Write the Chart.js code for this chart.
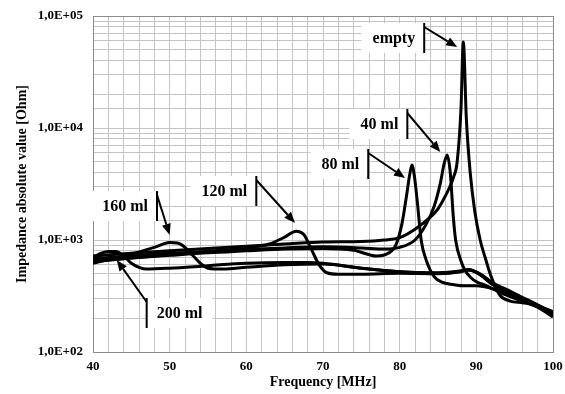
<!DOCTYPE html>
<html>
<head>
<meta charset="utf-8">
<script src="https://cdn.jsdelivr.net/npm/chart.js@4.4.1/dist/chart.umd.min.js"></script>
<style>
  html, body { margin: 0; padding: 0; background: #fff; }
</style>
</head>
<body>
<canvas id="chart" width="565" height="394"></canvas>
<script>
// frequency [MHz] / impedance [Ohm], one pair per curve
const emptyF = [40, 45, 50, 55, 60, 65, 70, 75, 78, 80, 82, 84, 85, 86, 87, 87.5, 88, 88.3, 88.7, 89.2, 89.8, 90.5, 91.2, 91.8, 92.5, 93.1, 94.4, 96, 97, 98.5, 100];
const emptyZ = [720, 760, 800, 840, 880, 920, 960, 970, 1000, 1050, 1250, 1600, 1900, 2500, 3600, 5000, 15000, 58600, 12000, 4000, 1800, 1000, 680, 500, 380, 320, 285, 275, 268, 240, 205];

const ml40F = [40, 45, 50, 55, 60, 65, 70, 75, 78, 80, 82, 83.5, 84.5, 85.3, 85.8, 86.2, 86.6, 87, 87.3, 88, 88.5, 89.3, 90.1, 91, 92, 94, 96, 98, 100];
const ml40Z = [680, 720, 760, 790, 820, 850, 870, 850, 830, 860, 1000, 1400, 2000, 3200, 4800, 5740, 4000, 1600, 1000, 650, 540, 460, 420, 400, 370, 320, 285, 255, 225];

const ml80F = [40, 45, 50, 55, 60, 65, 70, 74, 77, 78.5, 79.5, 80.3, 80.9, 81.3, 81.6, 81.9, 82.3, 82.8, 83.5, 84.5, 85.5, 87, 88.5, 90, 92, 95, 97.5, 100];
const ml80Z = [650, 690, 730, 770, 800, 830, 840, 810, 720, 760, 900, 1400, 2500, 3800, 4670, 3800, 2200, 1000, 650, 470, 420, 400, 390, 390, 370, 310, 265, 230];

const ml120F = [40, 45, 50, 55, 60, 63, 65, 66.5, 67.5, 68.5, 69.5, 70.5, 72, 75, 80, 85, 88, 89, 90.5, 92, 95, 97.5, 100];
const ml120Z = [640, 690, 740, 790, 850, 920, 1060, 1200, 1120, 820, 600, 510, 495, 495, 505, 500, 520, 540, 490, 405, 325, 270, 220];

const ml160F = [40, 42, 45, 48, 50, 51, 52, 53, 54, 55, 57, 60, 65, 70, 75, 80, 85, 88, 89, 90.5, 92, 95, 97.5, 100];
const ml160Z = [620, 670, 750, 860, 950, 940, 860, 730, 620, 560, 550, 570, 600, 610, 560, 520, 505, 525, 545, 490, 410, 330, 275, 225];

const ml200F = [40, 41, 42, 43, 44, 45, 46, 47, 50, 55, 60, 65, 68, 70, 75, 80, 85, 87, 89, 90.5, 92, 94, 96, 98, 100];
const ml200Z = [700, 760, 790, 790, 720, 620, 570, 550, 560, 590, 620, 630, 630, 620, 560, 520, 510, 520, 540, 500, 420, 360, 305, 260, 215];

// callouts: label, bar position and arrow tip, in data units
const callouts = [
  { text: 'empty',  f: 83.2,  z: 63600, tipF: 87.5,  tipZ: 52900, side: 'left' },
  { text: '40 ml',  f: 81.0,  z: 10860, tipF: 85.3,  tipZ: 6100,  side: 'left' },
  { text: '80 ml',  f: 75.9,  z: 4770,  tipF: 80.7,  tipZ: 3580,  side: 'left' },
  { text: '120 ml', f: 61.3,  z: 2740,  tipF: 66.35, tipZ: 1420,  side: 'left' },
  { text: '160 ml', f: 48.35, z: 2010,  tipF: 50.0,  tipZ: 1110,  side: 'left' },
  { text: '200 ml', f: 47.0,  z: 223,   tipF: 43.1,  tipZ: 663,   side: 'right' }
];

const pts = (fs, zs) => fs.map((f, i) => ({ x: f, y: zs[i] }));
const serif = '"Liberation Serif", "Times New Roman", serif';

const series = [
  ['empty', emptyF, emptyZ], ['40 ml', ml40F, ml40Z], ['80 ml', ml80F, ml80Z],
  ['120 ml', ml120F, ml120Z], ['160 ml', ml160F, ml160Z], ['200 ml', ml200F, ml200Z]
];

const calloutPlugin = {
  id: 'callouts',
  afterDatasetsDraw(chart) {
    const { ctx, scales: { x, y } } = chart;
    ctx.save();
    ctx.font = 'bold 16px ' + serif;
    ctx.textBaseline = 'middle';
    callouts.forEach(c => {
      const bx = x.getPixelForValue(c.f);
      const by = y.getPixelForValue(c.z);
      const tw = ctx.measureText(c.text).width;
      const half = 15;
      // white box behind the text
      ctx.fillStyle = '#fff';
      if (c.side === 'left') {
        ctx.fillRect(bx - tw - 20, by - half, tw + 20, half * 2);
        ctx.fillStyle = '#000';
        ctx.textAlign = 'right';
        ctx.fillText(c.text, bx - 9, by + 1);
      } else {
        ctx.fillRect(bx, by - half, tw + 20, half * 2);
        ctx.fillStyle = '#000';
        ctx.textAlign = 'left';
        ctx.fillText(c.text, bx + 10, by + 1);
      }
      // bar
      ctx.strokeStyle = '#000';
      ctx.lineWidth = 2;
      ctx.beginPath();
      ctx.moveTo(bx, by - half);
      ctx.lineTo(bx, by + half);
      ctx.stroke();
      // arrow
      const sx = bx, sy = by - half + 4;
      const tx = x.getPixelForValue(c.tipF), ty = y.getPixelForValue(c.tipZ);
      const ang = Math.atan2(ty - sy, tx - sx);
      const hl = 11, hw = 4.5;
      const ex = tx - hl * Math.cos(ang), ey = ty - hl * Math.sin(ang);
      ctx.beginPath();
      ctx.moveTo(sx, sy);
      ctx.lineTo(ex, ey);
      ctx.stroke();
      ctx.beginPath();
      ctx.moveTo(tx, ty);
      ctx.lineTo(ex + hw * Math.sin(ang), ey - hw * Math.cos(ang));
      ctx.lineTo(ex - hw * Math.sin(ang), ey + hw * Math.cos(ang));
      ctx.closePath();
      ctx.fillStyle = '#000';
      ctx.fill();
    });
    ctx.restore();
  }
};

new Chart(document.getElementById('chart').getContext('2d'), {
  type: 'line',
  data: {
    datasets: series.map(([name, fs, zs]) => ({
      label: name,
      data: pts(fs, zs),
      borderColor: '#000',
      borderWidth: 3,
      pointRadius: 0,
      fill: false,
      cubicInterpolationMode: 'monotone'
    }))
  },
  options: {
    responsive: false,
    animation: false,
    devicePixelRatio: 1,
    layout: { padding: { top: 16, right: 12, left: 0, bottom: 0 } },
    plugins: { legend: { display: false }, tooltip: { enabled: false } },
    scales: {
      x: {
        type: 'linear',
        min: 40, max: 100,
        afterFit: s => { s.height = 42; s.paddingLeft = 0; s.paddingRight = 0; },
        grid: {
          drawTicks: false,
          color: c => c.tick && (c.tick.value === 100) ? '#8a8a8a' : '#c4c4c4',
          lineWidth: 1
        },
        border: { color: '#8a8a8a' },
        ticks: {
          stepSize: 2,
          autoSkip: false,
          maxRotation: 0,
          padding: 7,
          color: '#000',
          font: { family: serif, size: 13, weight: 'bold' },
          callback: v => (v % 10 === 0 ? String(v) : '')
        },
        title: {
          display: true,
          text: 'Frequency [MHz]',
          color: '#000',
          padding: { top: 0, bottom: 3 },
          font: { family: serif, size: 14, weight: 'bold' }
        }
      },
      y: {
        type: 'logarithmic',
        min: 100, max: 100000,
        afterFit: s => { s.width = 93; s.paddingTop = 0; s.paddingBottom = 0; },
        grid: {
          drawTicks: false,
          color: c => c.tick && (c.tick.value === 100000) ? '#8a8a8a' : '#c4c4c4',
          lineWidth: 1
        },
        border: { color: '#8a8a8a' },
        ticks: {
          autoSkip: false,
          padding: 10,
          color: '#000',
          font: { family: serif, size: 13, weight: 'bold' },
          callback: v => {
            const e = Math.log10(v);
            if (Math.abs(e - Math.round(e)) > 1e-9) return '';
            return '1,0E+' + String(Math.round(e)).padStart(2, '0');
          }
        },
        title: {
          display: true,
          text: 'Impedance absolute value [Ohm]',
          color: '#000',
          padding: { top: 14, bottom: 0 },
          font: { family: serif, size: 14, weight: 'bold' }
        }
      }
    }
  },
  plugins: [calloutPlugin]
});
</script>
</body>
</html>
